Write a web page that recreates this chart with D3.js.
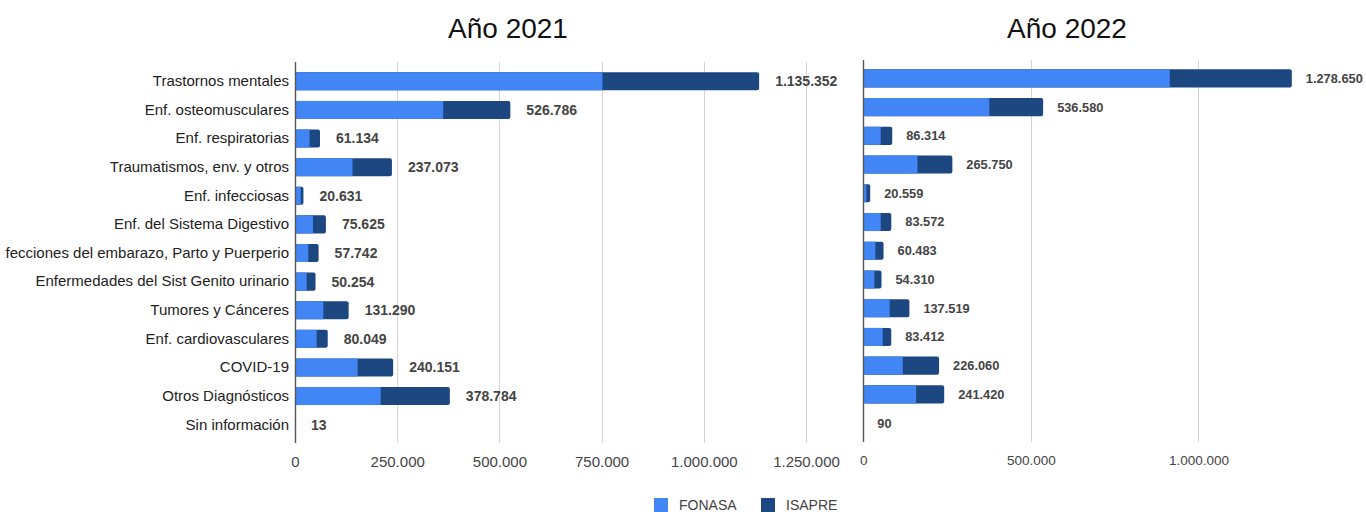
<!DOCTYPE html>
<meta charset="utf-8">
<style>
  body { margin: 0; background: #fff; }
  svg { font-family: "Liberation Sans", Arial, sans-serif; display: block; }
  .cat text { font-size: 15px; fill: #222; }
  .ticks text { fill: #444; }
  .val { font-weight: bold; fill: #444; }
  .grid line { stroke: #d4d4d4; stroke-width: 1; }
  .title { font-size: 28px; fill: #111; }
  .legend text { font-size: 14px; fill: #444; }
</style>
<svg width="1366" height="512"></svg>
<script src="https://cdnjs.cloudflare.com/ajax/libs/d3/7.8.5/d3.min.js"></script>
<script>

  // categories (top to bottom)
  var categories = [
    "Trastornos mentales",
    "Enf. osteomusculares",
    "Enf. respiratorias",
    "Traumatismos, env. y otros",
    "Enf. infecciosas",
    "Enf. del Sistema Digestivo",
    "fecciones del embarazo, Parto y Puerperio",
    "Enfermedades del Sist Genito urinario",
    "Tumores y Cánceres",
    "Enf. cardiovasculares",
    "COVID-19",
    "Otros Diagnósticos",
    "Sin información"
  ];

  var fonasa2021 = [752000, 362500, 35700, 140700, 14000, 44000, 32500, 28600, 69300, 53000, 153300, 209600, 10];
  var isapre2021 = [383352, 164286, 25434, 96373, 6631, 31625, 25242, 21654, 61990, 27049, 86851, 169184, 3];

  var fonasa2022 = [914400, 376000, 52000, 161700, 9000, 52000, 36000, 33000, 78800, 58000, 117700, 157500, 70];
  var isapre2022 = [364250, 160580, 34314, 104050, 11559, 31572, 24483, 21310, 58719, 25412, 108360, 83920, 20];

  var ticks2021 = [0, 250000, 500000, 750000, 1000000, 1250000];
  var ticks2022 = [0, 500000, 1000000];
  var grid2022 = [0, 500000, 1000000, 1500000];

  var seriesNames = ["FONASA", "ISAPRE"];
  var colors = ["#4285f4", "#1d4781"];

  var svg = d3.select("svg");

  var es = d3.formatLocale({decimal: ",", thousands: ".", grouping: [3], currency: ["$", ""]});
  var fmt = es.format(",d");

  function panel(opts) {
    var x = d3.scaleLinear().domain(opts.domain).range(opts.xRange);
    var y = d3.scaleBand().domain(categories).range(opts.yRange).paddingInner(0.37).paddingOuter(0.185);

    var g = svg.append("g");

    // grid lines
    g.append("g").attr("class", "grid")
      .selectAll("line")
      .data(opts.grid.slice(1))
      .enter().append("line")
      .attr("x1", function(d) { return Math.round(x(d)) + 0.5; })
      .attr("x2", function(d) { return Math.round(x(d)) + 0.5; })
      .attr("y1", opts.axisTop)
      .attr("y2", opts.axisBottom);

    var rows = categories.map(function(c, i) {
      return {cat: c, f: opts.fonasa[i], s: opts.isapre[i]};
    });

    var row = g.selectAll(".row").data(rows).enter().append("g").attr("class", "row");

    row.append("rect")
      .attr("x", x(0))
      .attr("y", function(d) { return y(d.cat); })
      .attr("height", y.bandwidth())
      .attr("width", function(d) { return x(d.f + d.s) - x(0); })
      .attr("rx", 2)
      .attr("fill", colors[1]);

    row.append("rect")
      .attr("x", x(0))
      .attr("y", function(d) { return y(d.cat); })
      .attr("height", y.bandwidth())
      .attr("width", function(d) { return x(d.f) - x(0); })
      .attr("fill", colors[0]);

    row.append("text")
      .attr("class", "val")
      .style("font-size", opts.valSize + "px")
      .attr("x", function(d) { return x(d.f + d.s) + opts.labelGap; })
      .attr("y", function(d) { return y(d.cat) + y.bandwidth() / 2; })
      .attr("dy", "0.35em")
      .text(function(d) { return fmt(d.f + d.s); });

    // vertical axis line
    g.append("line")
      .attr("x1", Math.round(x(0)) + 0.5)
      .attr("x2", Math.round(x(0)) + 0.5)
      .attr("y1", opts.axisTop)
      .attr("y2", opts.axisBottom)
      .attr("stroke", "#555")
      .attr("stroke-width", 1.4);

    if (opts.showCats) {
      g.append("g").attr("class", "cat")
        .attr("transform", "translate(" + x(0) + ",0)")
        .call(d3.axisLeft(y).tickSize(0).tickPadding(6))
        .call(function(s) { s.select(".domain").remove(); });
    }

    g.append("g").attr("class", "ticks")
      .attr("transform", "translate(0," + opts.axisBottom + ")")
      .call(d3.axisBottom(x).tickValues(opts.ticks).tickSize(0).tickPadding(opts.tickPad).tickFormat(fmt))
      .call(function(s) {
        s.select(".domain").remove();
        s.selectAll("text").style("font-size", opts.tickSize + "px");
      });

    svg.append("text")
      .attr("class", "title")
      .attr("x", opts.titleX)
      .attr("y", 38)
      .attr("text-anchor", "middle")
      .text(opts.title);
  }

  panel({
    title: "Año 2021", titleX: 508,
    fonasa: fonasa2021, isapre: isapre2021,
    domain: [0, 1250000], xRange: [295, 806],
    yRange: [67, 439], axisTop: 62, axisBottom: 443,
    ticks: ticks2021, grid: ticks2021, labelGap: 16, showCats: true,
    valSize: 14, tickSize: 15, tickPad: 13
  });

  panel({
    title: "Año 2022", titleX: 1067,
    fonasa: fonasa2022, isapre: isapre2022,
    domain: [0, 1500000], xRange: [863.3, 1366],
    yRange: [64, 437.5], axisTop: 60, axisBottom: 442,
    ticks: ticks2022, grid: grid2022, labelGap: 14, showCats: false,
    valSize: 12.8, tickSize: 13.5, tickPad: 13
  });

  // legend
  var legendX = [654, 761];
  var legend = svg.append("g").attr("class", "legend");
  seriesNames.forEach(function(name, i) {
    legend.append("rect")
      .attr("x", legendX[i]).attr("y", 498)
      .attr("width", 14).attr("height", 14)
      .attr("fill", colors[i]);
    legend.append("text")
      .attr("x", legendX[i] + 25).attr("y", 510)
      .text(name);
  });

</script>
